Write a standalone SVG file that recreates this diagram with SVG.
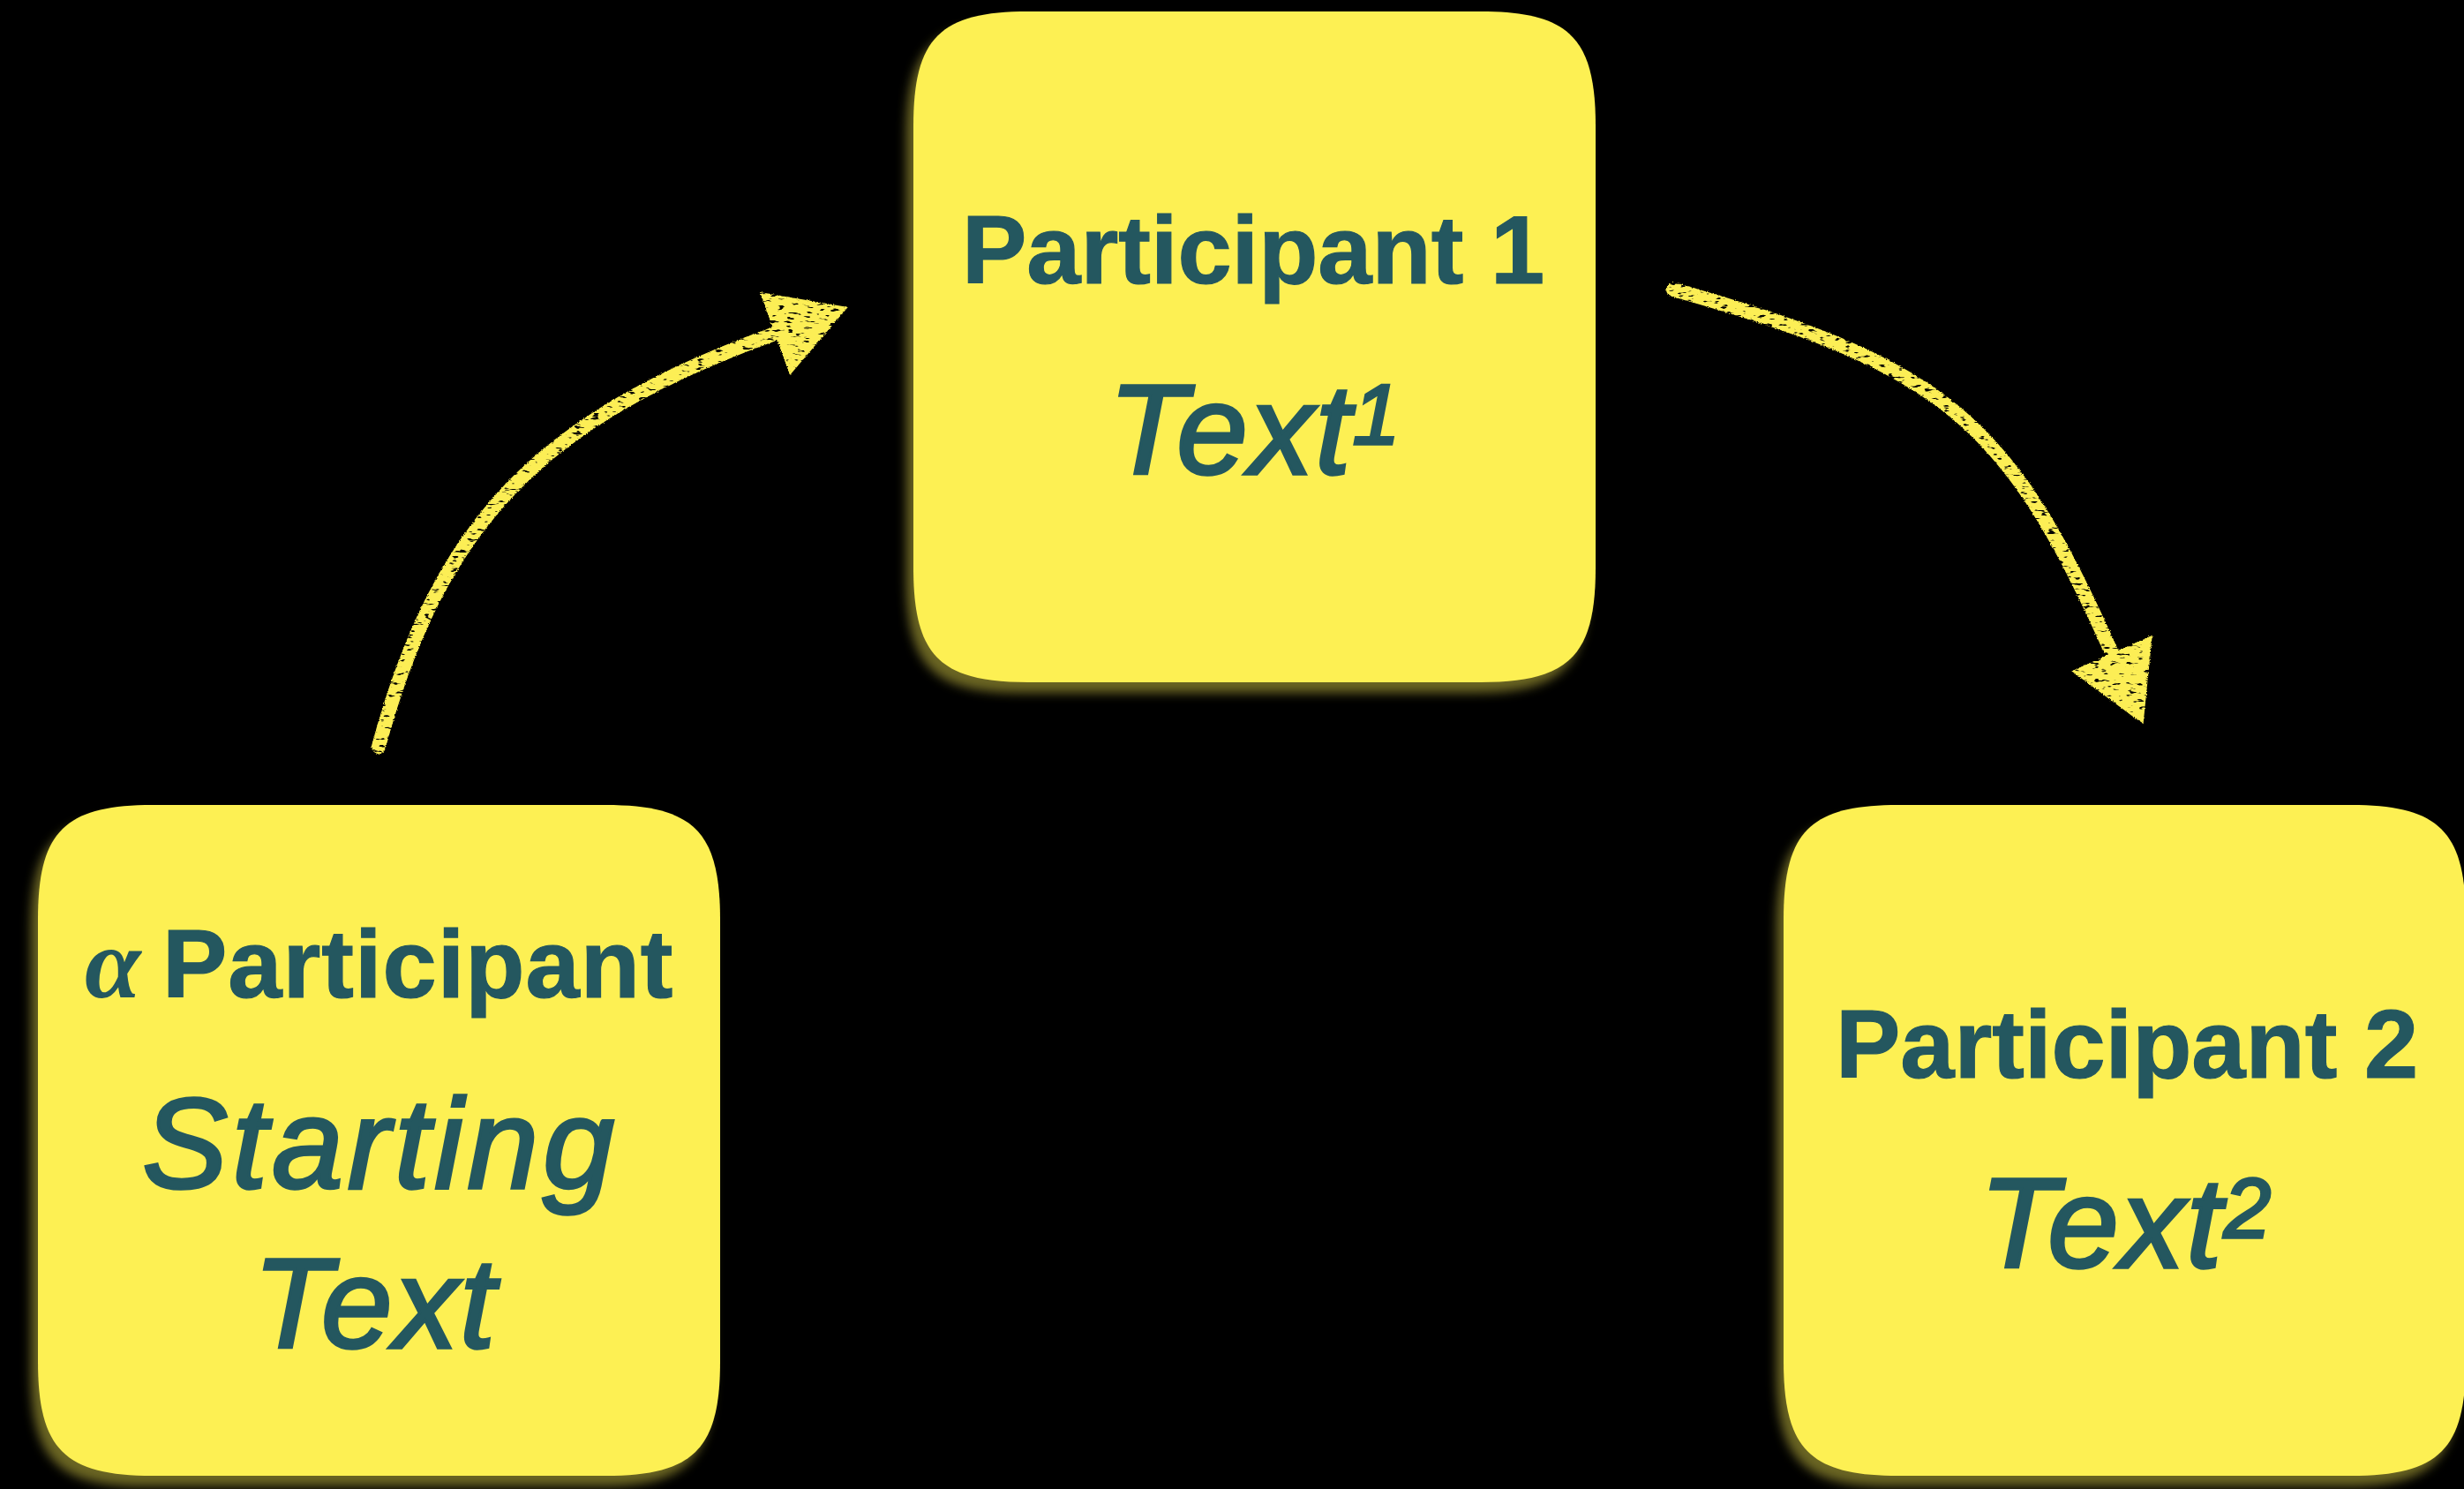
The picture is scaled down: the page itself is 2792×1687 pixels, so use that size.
<svg xmlns="http://www.w3.org/2000/svg" width="2792" height="1687" viewBox="0 0 2792 1687">
<defs>
<style>
.card { fill: #FDF052; }
.title { font-family: "Liberation Sans", Arial, sans-serif; font-weight: bold; font-size: 110px; fill: #24575F; stroke: #24575F; stroke-width: 1.2px; text-anchor: middle; }
.body { font-family: "Liberation Sans", Arial, sans-serif; font-style: italic; font-size: 145px; fill: #24575F; stroke: #24575F; stroke-width: 3.5px; text-anchor: middle; letter-spacing: 2px; }
.wide { letter-spacing: 5px; }
.sup { font-size: 96px; letter-spacing: 0; }
.alpha { font-family: "Liberation Serif", "DejaVu Serif", serif; font-style: italic; font-weight: bold; font-size: 115px; fill: #24575F; }
.label { font-family: "Liberation Sans", Arial, sans-serif; font-weight: bold; font-size: 110px; fill: #24575F; stroke: #24575F; stroke-width: 1.2px; letter-spacing: 1px; }
.shaft { fill: none; stroke: #FCEE55; stroke-width: 16px; stroke-linecap: round; marker-end: url(#head); filter: url(#chalk); }
</style>
<path id="card" d="M130,0 H643 C743,0 773,30 773,130 V630 C773,730 743,760 643,760 H130 C30,760 0,730 0,630 V130 C0,30 30,0 130,0 Z"/>
<filter id="glow" x="-10%" y="-10%" width="120%" height="120%">
  <feGaussianBlur in="SourceAlpha" stdDeviation="6"/>
  <feOffset dx="-8" dy="12" result="b"/>
  <feFlood flood-color="#FDF052" flood-opacity="0.42"/>
  <feComposite in2="b" operator="in"/>
  <feMerge><feMergeNode/><feMergeNode in="SourceGraphic"/></feMerge>
</filter>
<filter id="chalk" filterUnits="userSpaceOnUse" x="0" y="0" width="2792" height="1687">
  <feTurbulence type="fractalNoise" baseFrequency="0.9" numOctaves="2" seed="7" result="noise"/>
  <feDisplacementMap in="SourceGraphic" in2="noise" scale="3" xChannelSelector="R" yChannelSelector="G" result="rough"/>
  <feTurbulence type="fractalNoise" baseFrequency="0.1 0.3" numOctaves="2" seed="3" result="n2"/>
  <feColorMatrix in="n2" type="matrix" values="0 0 0 0 0  0 0 0 0 0  0 0 0 0 0  -9 0 0 0 6.6" result="mask"/>
  <feComposite in="rough" in2="mask" operator="in"/>
</filter>
<marker id="head" markerUnits="userSpaceOnUse" markerWidth="100" markerHeight="110" refX="0" refY="55" orient="auto" viewBox="0 0 100 110">
  <path d="M0,5 L88,55 L0,105 Z" fill="#FCEE55"/>
</marker>
</defs>
<rect width="2792" height="1687" fill="#000000"/>

<g id="connectors">
  <path id="edge-alpha-p1" class="shaft" d="M429,846 C497,594 610,475 878,378"/>
  <path id="edge-p1-p2" class="shaft" d="M1896,328 C2202,414 2276,475 2393,740"/>
</g>

<g id="node-alpha" >
  <use href="#card" class="card" transform="translate(43,912)" filter="url(#glow)"/>
  <text class="alpha" x="96" y="1130">α</text>
  <text class="label" x="184" y="1130">Participant</text>
  <text class="body wide" x="431" y="1346">Starting</text>
  <text class="body" x="425" y="1527">Text</text>
</g>

<g id="node-p1">
  <use href="#card" class="card" transform="translate(1035,13)" filter="url(#glow)"/>
  <text class="title" x="1420" y="321">Participant 1</text>
  <text class="body" x="1421" y="537">Text<tspan class="sup" dy="-34">1</tspan></text>
</g>

<g id="node-p2">
  <use href="#card" class="card" transform="translate(2021,912)" filter="url(#glow)"/>
  <text class="title" x="2410" y="1221">Participant 2</text>
  <text class="body" x="2408" y="1436">Text<tspan class="sup" dy="-34">2</tspan></text>
</g>
</svg>
